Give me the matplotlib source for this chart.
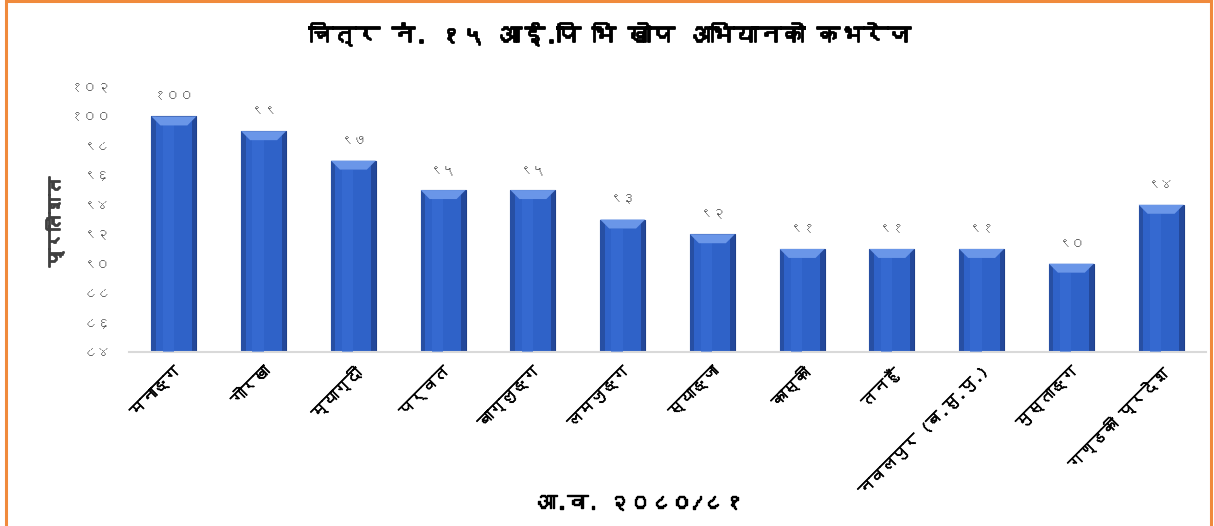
import matplotlib
matplotlib.use("Agg")
import matplotlib.pyplot as plt
from matplotlib import font_manager
from matplotlib import patheffects as pe
from matplotlib.patches import Rectangle, Polygon
import numpy as np

# ---------------- data ----------------
categories = ["मनाङ्ग", "गोरखा", "म्याग्दी", "पर्वत", "बाग्लुङ्ग", "लमजुङ्ग",
              "स्याङ्जा", "कास्की", "तनहुँ", "नवलपुर (ब.सु.पु.)", "मुस्ताङ्ग", "गण्डकी प्रदेश"]
values = [100, 99, 97, 95, 95, 93, 92, 91, 91, 91, 90, 94]
y_ticks = [84, 86, 88, 90, 92, 94, 96, 98, 100, 102]
title = "चित्र नं. १५ आई.पि भि खोप अभियानको कभरेज"
ylabel = "प्रतिशत"
xlabel = "आ.व. २०८०/८१"

DEV = str.maketrans("0123456789", "०१२३४५६७८९")
def dev(n):
    return str(n).translate(DEV)

# ---------------- font discovery (Devanagari coverage) ----------------
fams = []
try:
    from fontTools.ttLib import TTFont
    for fe in font_manager.fontManager.ttflist:
        try:
            f = TTFont(fe.fname, fontNumber=0, lazy=True)
            cmap = f.getBestCmap()
            if cmap and 0x0928 in cmap and fe.name not in fams:
                fams.append(fe.name)
        except Exception:
            pass
except Exception:
    pass
family = fams + ["DejaVu Sans"] if fams else ["DejaVu Sans"]
plt.rcParams['font.family'] = family

def bold(c, w=1.0):
    return [pe.withStroke(linewidth=w, foreground=c)]

# ---------------- figure ----------------
W, H = 1214, 526
fig = plt.figure(figsize=(W / 100, H / 100), dpi=100)
fig.patch.set_facecolor("white")

# orange frame
fig.add_artist(Rectangle((6 / W, -0.05), (1211 - 6) / W, 1.05 - 1.5 / H,
                         transform=fig.transFigure, fill=False,
                         edgecolor="#F08A3C", linewidth=2.2))

ax = fig.add_axes([129 / W, 1 - 352 / H, (1206 - 129) / W, (352 - 87) / H])
x = np.arange(len(categories))
bars = ax.bar(x, values, width=0.5, bottom=0, color="#2F62C8",
              edgecolor="#1E3F8A", linewidth=0.8, zorder=2)

ax.set_ylim(84, 102)
ax.set_xlim(-0.5, len(categories) - 0.5)

# bevel decoration derived from bar geometry
px_per_unit_y = (352 - 87) / 18.0
for b in bars:
    x0, w, h = b.get_x(), b.get_width(), b.get_height()
    bev_y = 9 / px_per_unit_y
    bev_x = w * 0.2
    ax.add_patch(Rectangle((x0, 84), w * 0.1, h - 84, facecolor="#274FA3",
                           edgecolor="none", zorder=2.5))
    ax.add_patch(Rectangle((x0 + w * 0.9, 84), w * 0.1, h - 84, facecolor="#23489A",
                           edgecolor="none", zorder=2.5))
    ax.add_patch(Rectangle((x0 + w * 0.25, 84), w * 0.25, h - 84 - bev_y, facecolor="#3A6FD6",
                           edgecolor="none", zorder=2.6, alpha=0.6))
    top = Polygon([[x0, h], [x0 + w, h], [x0 + w - bev_x, h - bev_y], [x0 + bev_x, h - bev_y]],
                  closed=True, facecolor="#6A96E8", edgecolor="none", zorder=3)
    ax.add_patch(top)
    ax.text(x0 + w / 2, h + 0.95, dev(int(h)), ha="center", va="bottom",
            fontsize=10, color="#595959", zorder=4)

ax.set_yticks(y_ticks)
ax.set_yticklabels([dev(t) for t in y_ticks], fontsize=10, color="#595959")
ax.set_xticks(x)
ax.set_xticklabels(categories, rotation=45, ha="right", rotation_mode="anchor",
                   fontsize=11.5, color="black")
for lbl in ax.get_xticklabels():
    lbl.set_path_effects(bold("black", 0.5))
ax.tick_params(axis="both", length=0)
ax.tick_params(axis="y", pad=13)
ax.tick_params(axis="x", pad=9)
for s in ["top", "right", "left"]:
    ax.spines[s].set_visible(False)
ax.spines["bottom"].set_color("#D9D9D9")
ax.spines["bottom"].set_linewidth(1.5)
ax.set_facecolor("white")

fig.text(610 / W, 1 - 35 / H, title, ha="center", va="center", fontsize=17,
         color="black", path_effects=bold("black", 1.3))
fig.text(54 / W, 1 - 222 / H, ylabel, ha="center", va="center", rotation=90,
         fontsize=13, color="#404040", path_effects=bold("#404040", 1.3))
fig.text(640 / W, 1 - 503 / H, xlabel, ha="center", va="center", fontsize=15,
         color="black", path_effects=bold("black", 1.0))

fig.savefig("out.png", dpi=100, facecolor="white")
